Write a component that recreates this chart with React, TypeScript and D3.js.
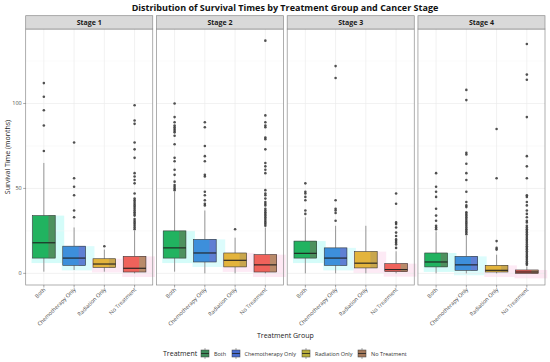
import * as d3 from 'd3';

const W = 550;
const H = 362;
const FONT = '"Open Sans", "Noto Sans", sans-serif';

const stages = ['Stage 1', 'Stage 2', 'Stage 3', 'Stage 4'];
const treatments = ['Both', 'Chemotherapy Only', 'Radiation Only', 'No Treatment'];

// box stats per stage, per treatment
const lower = [
  [1, 2, 1, 0],
  [1, 0, 0, 0],
  [0, 0, 0, 0],
  [0, 0, 0, 0],
];
const q1 = [
  [9, 4.7, 3.5, 0.8],
  [9, 6.7, 3.8, 0.8],
  [9, 4.7, 3.2, 1],
  [3.8, 1.8, 0.8, 0],
];
const median = [
  [18, 9, 5.5, 3],
  [15, 12, 7.7, 5],
  [11.8, 9, 6, 2.2],
  [6.7, 5, 1.8, 0.8],
];
const q3 = [
  [34, 16, 8.6, 10],
  [25, 20, 12, 11],
  [19, 15, 12.8, 5.7],
  [12, 10, 4.7, 2],
];
const upper = [
  [65, 27, 14, 25],
  [48, 37, 21, 27],
  [33, 28, 28, 13],
  [24.7, 22, 11, 4],
];

const outliers1 = [
  [72, 87, 96, 104, 112],
  [33, 37, 46, 51, 56, 77],
  [16],
  [26, 27, 28, 29, 30, 31, 32, 34, 35, 36, 37, 38, 39, 40, 41, 42, 43, 44, 47, 53, 55, 57, 59, 68, 73, 77, 88, 90, 99],
];
const outliers2 = [
  [49, 50, 51, 52, 54, 58, 61, 66, 68, 76, 81, 83, 84, 85, 86, 87, 89, 92, 100],
  [40, 41, 43, 46, 48, 57, 58, 66, 69, 75, 86, 89],
  [26],
  [28, 29, 30, 31, 32, 33, 34, 35, 36, 37, 38, 40, 41, 42, 44, 46, 47, 49, 59, 61, 63, 65, 73, 79, 80, 86, 87, 89, 93, 137],
];
const outliers3 = [
  [35, 37, 43, 45, 47, 48, 53],
  [31, 35.5, 37, 38, 43, 115, 122],
  [],
  [15, 17, 18, 19, 20, 22, 24, 27, 29, 30, 41, 47],
];
const outliers4 = [
  [26, 27, 28, 31, 34, 38, 45, 48, 51, 59],
  [23, 24, 25, 26, 27, 28, 29, 30, 31, 32, 33, 34, 35, 36, 39, 40, 42, 48, 55, 59, 64.5, 70, 71, 102, 108],
  [14, 15, 19, 56, 85],
  [5, 6, 7, 8, 9, 10, 11, 12, 13, 14, 15, 16, 17, 18, 19, 20, 21, 22, 23, 24, 25, 26, 27, 28, 30, 31, 33, 35, 37, 40, 42, 45, 46, 56, 63, 69, 92, 114, 117, 135],
];
const outliers = [outliers1, outliers2, outliers3, outliers4];

const yTicks = [0, 50, 100];
const yMinor = [25, 75, 125];

const fillMain = ['#21b360', '#3d8fdb', '#e3b43c', '#ef625b'];
const fillDark = ['#4d915e', '#5f7fd3', '#c9a64d', '#b98a6a'];
const glowColor = ['#cdfbf8', '#d6fbfb', '#fde6f3', '#fde4f1'];
const legendFill = ['#3f8c5b', '#4a6dcf', '#b8ae3c', '#a57a5c'];

const PLOT_L = 25.7;
const PLOT_R = 545;
const PANEL_GAP = 3.7;
const PANEL_W = (PLOT_R - PLOT_L - 3 * PANEL_GAP) / 4;
const PANEL_TOP = 29;
const PANEL_BOTTOM = 285;
const STRIP_TOP = 15.7;

export default function App() {
  const y = d3.scaleLinear().domain([-6.85, 143.85]).range([PANEL_BOTTOM, PANEL_TOP]);
  const panelX = d3.scaleBand<string>().domain(stages).range([PLOT_L, PLOT_R]).paddingInner(PANEL_GAP / (PANEL_W + PANEL_GAP)).paddingOuter(0);

  const xFor = (s: string) =>
    d3.scalePoint<string>().domain(treatments).range([panelX(s)!, panelX(s)! + panelX.bandwidth()]).padding(0.6);
  const step = xFor(stages[0]).step();
  const bw = step * 0.75;

  const legendItems = [
    { x: 201, tx: 214 },
    { x: 232, tx: 244.5 },
    { x: 302, tx: 315 },
    { x: 358, tx: 371 },
  ];

  return (
    <svg width={W} height={H} style={{ position: 'absolute', left: 0, top: 0, background: '#fff' }} fontFamily={FONT}>
      <text x={285} y={11} textAnchor="middle" fontSize={9} fontWeight="bold" fill="#111">
        Distribution of Survival Times by Treatment Group and Cancer Stage
      </text>

      {/* panel backgrounds */}
      {stages.map(s => (
        <rect key={s} x={panelX(s)} y={PANEL_TOP} width={panelX.bandwidth()} height={PANEL_BOTTOM - PANEL_TOP} fill="#fff" />
      ))}

      {/* ghosted halos behind boxes */}
      {stages.map((s, si) => {
        const x = xFor(s);
        return treatments.map((t, ti) => (
          <rect
            key={s + t + 'g'}
            x={x(t)! - bw / 2 - 1}
            y={y(q3[si][ti])}
            width={bw + 10}
            height={y(q1[si][ti]) - y(q3[si][ti]) + 5}
            fill={glowColor[ti]}
            opacity={0.85}
          />
        ));
      })}

      {/* grid */}
      {stages.map(s => {
        const x = xFor(s);
        const left = panelX(s)!;
        const right = left + panelX.bandwidth();
        return (
          <g key={s + 'grid'}>
            {yMinor.map(v => (
              <line key={'m' + v} x1={left} x2={right} y1={y(v)} y2={y(v)} stroke="#f4f4f4" strokeWidth={0.5} />
            ))}
            {yTicks.map(v => (
              <line key={'M' + v} x1={left} x2={right} y1={y(v)} y2={y(v)} stroke="#ebebeb" strokeWidth={0.7} />
            ))}
            {treatments.map(t => (
              <line key={t} x1={x(t)} x2={x(t)} y1={PANEL_TOP} y2={PANEL_BOTTOM} stroke="#ebebeb" strokeWidth={0.7} />
            ))}
          </g>
        );
      })}

      {/* boxplots */}
      {stages.map((s, si) => {
        const x = xFor(s);
        return treatments.map((t, ti) => {
          const cx = x(t)!;
          const x0 = cx - bw / 2;
          const top = y(q3[si][ti]);
          const bot = y(q1[si][ti]);
          return (
            <g key={s + t}>
              <line x1={cx} x2={cx} y1={y(upper[si][ti])} y2={top} stroke="#555" strokeWidth={0.6} />
              <line x1={cx} x2={cx} y1={bot} y2={y(lower[si][ti])} stroke="#555" strokeWidth={0.6} />
              <rect x={x0} y={top} width={bw} height={bot - top} fill={fillMain[ti]} />
              <rect x={x0 + bw * 0.7} y={top} width={bw * 0.3} height={bot - top} fill={fillDark[ti]} />
              <rect x={x0} y={top} width={bw} height={bot - top} fill="none" stroke="#3a3a3a" strokeWidth={0.6} />
              <line x1={x0} x2={x0 + bw} y1={y(median[si][ti])} y2={y(median[si][ti])} stroke="#1f1f1f" strokeWidth={1.1} />
              {outliers[si][ti].map((v, k) => (
                <circle key={k} cx={cx} cy={y(v)} r={1.3} fill="#333" opacity={0.85} />
              ))}
            </g>
          );
        });
      })}

      {/* panel borders, strips */}
      {stages.map(s => (
        <g key={s + 'frame'}>
          <rect x={panelX(s)} y={PANEL_TOP} width={panelX.bandwidth()} height={PANEL_BOTTOM - PANEL_TOP} fill="none" stroke="#8c8c8c" strokeWidth={0.7} />
          <rect x={panelX(s)} y={STRIP_TOP} width={panelX.bandwidth()} height={PANEL_TOP - STRIP_TOP} fill="#d9d9d9" stroke="#8c8c8c" strokeWidth={0.7} />
          <text x={panelX(s)! + panelX.bandwidth() / 2} y={STRIP_TOP + 9.5} textAnchor="middle" fontSize={7} fontWeight="bold" fill="#1a1a1a">
            {s}
          </text>
        </g>
      ))}

      {/* y axis */}
      {yTicks.map(v => (
        <g key={v}>
          <line x1={PLOT_L - 2.5} x2={PLOT_L} y1={y(v)} y2={y(v)} stroke="#555" strokeWidth={0.5} />
          <text x={PLOT_L - 4} y={y(v) + 2} textAnchor="end" fontSize={5.5} fill="#4d4d4d">
            {v}
          </text>
        </g>
      ))}
      <text transform={`translate(9.5, ${(PANEL_TOP + PANEL_BOTTOM) / 2}) rotate(-90)`} textAnchor="middle" fontSize={7} fill="#222">
        Survival Time (months)
      </text>

      {/* x axes */}
      {stages.map(s => {
        const x = xFor(s);
        return treatments.map(t => (
          <g key={s + t + 'ax'}>
            <line x1={x(t)} x2={x(t)} y1={PANEL_BOTTOM} y2={PANEL_BOTTOM + 2.5} stroke="#555" strokeWidth={0.5} />
            <text
              transform={`translate(${x(t)! + 2}, ${PANEL_BOTTOM + 5}) rotate(-45)`}
              textAnchor="end"
              fontSize={5.5}
              fill="#4d4d4d"
            >
              {t}
            </text>
          </g>
        ));
      })}
      <text x={(PLOT_L + PLOT_R) / 2} y={338} textAnchor="middle" fontSize={7} fill="#222">
        Treatment Group
      </text>

      {/* legend */}
      <text x={163} y={356} fontSize={7} fill="#222">Treatment</text>
      {treatments.map((t, i) => {
        const it = legendItems[i];
        return (
          <g key={t + 'leg'}>
            <line x1={it.x + 4} x2={it.x + 4} y1={348} y2={359} stroke="#555" strokeWidth={0.5} />
            <rect x={it.x} y={350} width={8} height={7} fill={legendFill[i]} stroke="#3a3a3a" strokeWidth={0.5} />
            <line x1={it.x} x2={it.x + 8} y1={353.5} y2={353.5} stroke="#1f1f1f" strokeWidth={0.8} />
            <text x={it.tx} y={355.5} fontSize={5.5} fill="#333">{t}</text>
          </g>
        );
      })}
    </svg>
  );
}
